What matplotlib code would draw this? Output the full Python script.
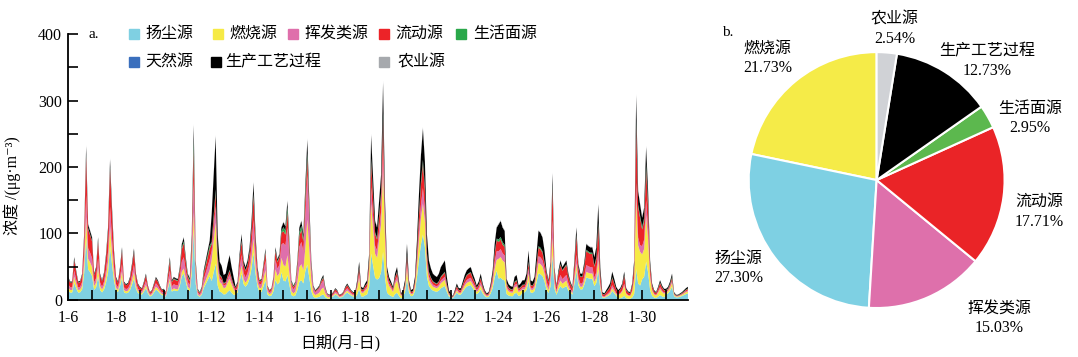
import numpy as np
import matplotlib.pyplot as plt

plt.rcParams['font.family'] = ['Liberation Serif', 'Noto Sans CJK SC', 'DejaVu Serif']

# 小时浓度合计 (每2小时一个值, 1-6 ~ 1-31)
total = [
    35, 28, 28, 65, 45, 28, 29, 40, 100, 233, 115, 105,      # 1-6
    95, 40, 50, 95, 40, 30, 42, 70, 110, 213, 140, 75,       # 1-7
    35, 28, 50, 80, 28, 24, 26, 35, 55, 78, 40, 25,          # 1-8
    20, 18, 28, 40, 22, 12, 15, 25, 35, 30, 22, 16,          # 1-9
    17, 12, 40, 65, 30, 35, 33, 32, 50, 85, 95, 65,          # 1-10
    40, 33, 100, 265, 60, 17, 12, 20, 45, 60, 75, 90,        # 1-11
    130, 190, 248, 100, 58, 52, 38, 40, 55, 68, 50, 35,      # 1-12
    20, 28, 70, 100, 60, 50, 60, 80, 120, 178, 100, 50,      # 1-13
    30, 32, 55, 78, 22, 15, 18, 35, 80, 62, 70, 110,         # 1-14
    118, 112, 150, 90, 30, 22, 28, 60, 110, 120, 100, 175,   # 1-15
    243, 150, 60, 22, 15, 18, 22, 32, 38, 20, 10, 8,         # 1-16
    9, 12, 18, 15, 8, 9, 12, 20, 25, 20, 15, 12,             # 1-17
    12, 30, 58, 20, 18, 25, 30, 70, 250, 185, 120, 110,      # 1-18
    150, 190, 330, 150, 50, 35, 28, 20, 40, 50, 28, 10,      # 1-19
    15, 30, 85, 30, 15, 17, 35, 90, 160, 220, 260, 210,      # 1-20
    100, 60, 48, 40, 37, 35, 40, 50, 55, 60, 35, 15,         # 1-21
    10, 6, 15, 25, 18, 18, 28, 38, 45, 48, 50, 40,           # 1-22
    32, 22, 28, 40, 25, 15, 10, 12, 25, 45, 85, 110,         # 1-23
    115, 120, 110, 105, 32, 24, 21, 20, 35, 38, 22, 25,      # 1-24
    30, 30, 40, 75, 30, 28, 35, 70, 105, 102, 95, 75,        # 1-25
    45, 30, 58, 192, 50, 22, 45, 60, 50, 55, 60, 40,         # 1-26
    28, 20, 60, 110, 55, 40, 40, 58, 85, 82, 80, 80,         # 1-27
    65, 80, 145, 50, 12, 10, 15, 20, 26, 43, 32, 20,         # 1-28
    15, 18, 25, 43, 18, 13, 12, 25, 60, 310, 165, 145,       # 1-29
    125, 140, 232, 165, 60, 25, 15, 12, 20, 30, 22, 17,      # 1-30
    17, 20, 28, 40, 12, 8, 8, 10, 12, 15, 18, 20,            # 1-31
]

# 各源逐日占比 (%)
share_dust    = [40, 38, 42, 45, 42, 40, 22, 40, 38, 25, 22, 45, 28, 22, 38, 35, 45, 40, 28, 38, 35, 40, 32, 15, 25, 50]
share_burn    = [14, 14, 12, 12, 8, 10, 25, 12, 20, 20, 28, 12, 30, 38, 18, 15, 12, 15, 26, 15, 14, 10, 10, 35, 30, 15]
share_voc     = [14, 14, 14, 15, 18, 18, 10, 16, 18, 28, 28, 14, 10, 10, 9, 8, 10, 12, 10, 10, 14, 12, 10, 7, 10, 8]
share_mobile  = [25, 27, 24, 20, 22, 18, 8, 20, 16, 15, 10, 18, 15, 13, 14, 10, 15, 15, 12, 12, 25, 25, 25, 28, 20, 10]
share_living  = [1, 1, 1, 1, 3, 5, 2, 2, 2, 5, 3, 2, 2, 2, 2, 2, 2, 2, 3, 2, 2, 2, 3, 2, 3, 4]
share_natural = [0.3] * 26
share_process = [5, 5, 6, 6, 6, 8, 32, 9, 5, 6, 8, 8, 14, 14, 18, 28, 15, 15, 20, 22, 9, 10, 19, 12, 11, 12]
share_agri    = [1] * 26

names = ['扬尘源', '燃烧源', '挥发类源', '流动源', '生活面源', '天然源', '生产工艺过程', '农业源']
colors = ['#7fd0e2', '#f6ea45', '#df6fab', '#ec2328', '#2aa84a', '#3a6fbd', '#000000', '#a6a9ad']
day_labels = ['1-6', '1-8', '1-10', '1-12', '1-14', '1-16', '1-18', '1-20',
              '1-22', '1-24', '1-26', '1-28', '1-30']

# 饼图
pie_names = ['燃烧源', '扬尘源', '挥发类源', '流动源', '生活面源', '生产工艺过程', '农业源']
pie_values = [21.73, 27.30, 15.03, 17.71, 2.95, 12.73, 2.54]
pie_colors = ['#f5eb48', '#7ed0e3', '#de70ab', '#ea2427', '#5cb84e', '#000000', '#d0d2d6']

total = np.array(total, dtype=float)
hours = np.arange(len(total)) * 2
shares = np.array([share_dust, share_burn, share_voc, share_mobile, share_living,
                   share_natural, share_process, share_agri], dtype=float)
shares = shares / shares.sum(axis=0)
shares = np.repeat(shares, 12, axis=1)
series = shares * total

fig = plt.figure(figsize=(10.78, 3.57), dpi=100)
ax = fig.add_axes([0.0628, 0.1597, 0.5754, 0.745])
ax.stackplot(hours, *series, colors=colors, linewidth=0)
ax.set_xlim(-0.5, 622)
ax.set_ylim(0, 400)
ax.set_xticks(np.arange(0, 600, 48))
ax.set_xticklabels(day_labels)
ax.set_xticks(np.arange(0, 623, 24), minor=True)
ax.set_yticks([0, 100, 200, 300, 400])
ax.set_yticks([50, 150, 250, 350], minor=True)
ax.tick_params(which='both', direction='in', length=7, width=1.2, labelsize=11.5)
ax.tick_params(axis='x', which='major', pad=7)
ax.tick_params(axis='y', which='major', pad=4)
for s in ['top', 'right']:
    ax.spines[s].set_visible(False)
for s in ['left', 'bottom']:
    ax.spines[s].set_linewidth(1.3)
ax.set_xlabel('日期(月-日)', fontsize=11.5)
ax.xaxis.set_label_coords(0.44, -0.13)
ax.set_ylabel('浓度 /(μg·m⁻³)', fontsize=11.5)
ax.yaxis.set_label_coords(-0.075, 0.43)
ax.text(0.033, 1.0, 'a.', transform=ax.transAxes, fontsize=11, va='center')

# 图例 (手动排布)
leg_x = [0.107, 0.242, 0.363, 0.510, 0.634, 0.107, 0.239, 0.510]
leg_tx = [0.125, 0.260, 0.381, 0.529, 0.653, 0.125, 0.254, 0.531]
leg_y = [1.0, 1.0, 1.0, 1.0, 1.0, 0.895, 0.895, 0.895]
for i in range(len(names)):
    ax.plot([leg_x[i]], [leg_y[i]], marker='s', ms=7, color=colors[i],
            transform=ax.transAxes, clip_on=False)
    ax.text(leg_tx[i], leg_y[i], names[i], transform=ax.transAxes,
            fontsize=11.5, va='center', ha='left')

# 饼图
pax = fig.add_axes([0.6648, 0.0476, 0.2968, 0.896])
pax.pie(pie_values, colors=pie_colors, startangle=90, counterclock=True,
        wedgeprops=dict(edgecolor='white', linewidth=1.5))
pax.set_xlim(-1.25, 1.25)
pax.set_ylim(-1.25, 1.25)
pax.set_aspect('equal')
label_pos = [(-0.85, 0.95), (-1.08, -0.69), (0.96, -1.08), (1.27, -0.25),
             (1.20, 0.48), (0.86, 0.93), (0.14, 1.18)]
for n, v, (x, y) in zip(pie_names, pie_values, label_pos):
    pax.text(x, y, f'{n}\n{v:.2f}%', ha='center', va='center', fontsize=11.5,
             linespacing=1.3)
fig.text(722 / 1078, 1 - 33 / 357, 'b.', fontsize=11, va='center')

fig.savefig('out.png', dpi=100)
